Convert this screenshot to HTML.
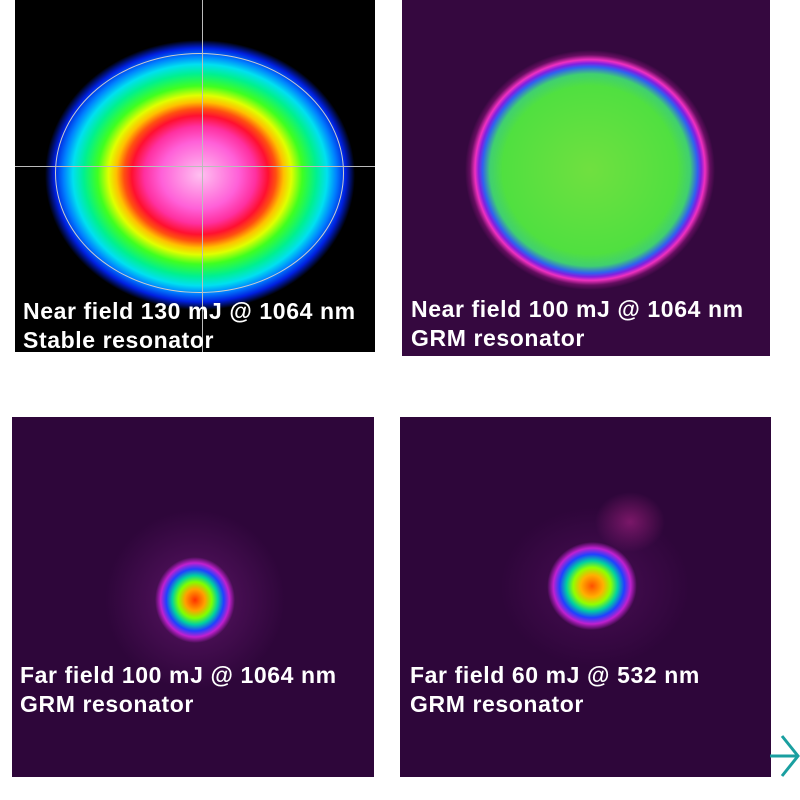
<!DOCTYPE html>
<html><head><style>
html,body{margin:0;padding:0;background:#fff;width:800px;height:800px;overflow:hidden;position:relative;font-family:"Liberation Sans",sans-serif}
.p{position:absolute;overflow:hidden}
.t{position:absolute;color:#fff;font-weight:bold;font-size:23px;line-height:29px;white-space:nowrap;letter-spacing:0.6px}
</style></head><body>
<div class="p" style="left:15px;top:0;width:360px;height:352px;background:#000">
<div style="position:absolute;left:30px;top:40px;width:310px;height:270px;border-radius:50%;background:radial-gradient(closest-side,#ffc0f0 0%,#ff60d8 25%,#ff30a0 36%,#ff1030 44%,#ff5010 49%,#ffc000 54%,#e0ff00 59%,#40ff20 66%,#00f090 75%,#00e0f0 82%,#0080ff 88%,#0020e0 94%,rgba(0,0,60,0) 100%)"></div>
<div style="position:absolute;left:40px;top:53px;width:287px;height:238px;border:1.5px solid #ccc;border-radius:50%"></div>
<div style="position:absolute;left:187px;top:0;width:1px;height:352px;background:#bbb"></div>
<div style="position:absolute;left:0;top:166px;width:360px;height:1px;background:#bbb"></div>
</div>
<div class="t" style="left:23px;top:297px">Near field 130 mJ @ 1064 nm<br>Stable resonator</div>

<div class="p" style="left:402px;top:0;width:368px;height:356px;background:#35083f">
<div style="position:absolute;left:63px;top:50px;width:250px;height:240px;border-radius:50%;background:radial-gradient(closest-side,#70e040 0%,#50e040 70%,#40d070 80%,#3060f0 86%,#8020e0 89%,#f030c0 92%,rgba(150,20,130,0.5) 96%,rgba(53,8,63,0) 100%)"></div>
</div>
<div class="t" style="left:411px;top:295px">Near field 100 mJ @ 1064 nm<br>GRM resonator</div>

<div class="p" style="left:12px;top:417px;width:362px;height:360px;background:#2e063a">
<div style="position:absolute;left:93px;top:93px;width:180px;height:180px;border-radius:50%;background:radial-gradient(closest-side,rgba(120,30,130,0.6) 0%,rgba(46,6,58,0) 100%)"></div>
<div style="position:absolute;left:143px;top:140px;width:80px;height:86px;border-radius:50%;background:radial-gradient(closest-side,#ff3000 0%,#ffa000 25%,#80ff00 42%,#00d0a0 57%,#2040ff 72%,#c020d0 86%,rgba(100,20,110,0) 100%)"></div>
</div>
<div class="t" style="left:20px;top:661px">Far field 100 mJ @ 1064 nm<br>GRM resonator</div>

<div class="p" style="left:400px;top:417px;width:371px;height:360px;background:#2e063a">
<div style="position:absolute;left:195px;top:75px;width:70px;height:60px;border-radius:50%;background:radial-gradient(closest-side,rgba(200,40,150,0.5),rgba(46,6,58,0) 100%)"></div>
<div style="position:absolute;left:100px;top:90px;width:190px;height:160px;border-radius:50%;background:radial-gradient(closest-side,rgba(100,20,110,0.5) 0%,rgba(46,6,58,0) 100%)"></div>
<div style="position:absolute;left:147px;top:125px;width:90px;height:88px;border-radius:50%;transform:rotate(-20deg);background:radial-gradient(closest-side,#ff5000 0%,#ffb000 25%,#90ff00 42%,#00d0a0 57%,#2040ff 72%,#c020d0 86%,rgba(100,20,110,0) 100%)"></div>
</div>
<div class="t" style="left:410px;top:661px">Far field 60 mJ @ 532 nm<br>GRM resonator</div>

<svg style="position:absolute;left:770px;top:734px" width="30" height="44"><path d="M0 22H28M12 2L28 22L12 42" fill="none" stroke="#1a9fa0" stroke-width="3"/></svg>
</body></html>
